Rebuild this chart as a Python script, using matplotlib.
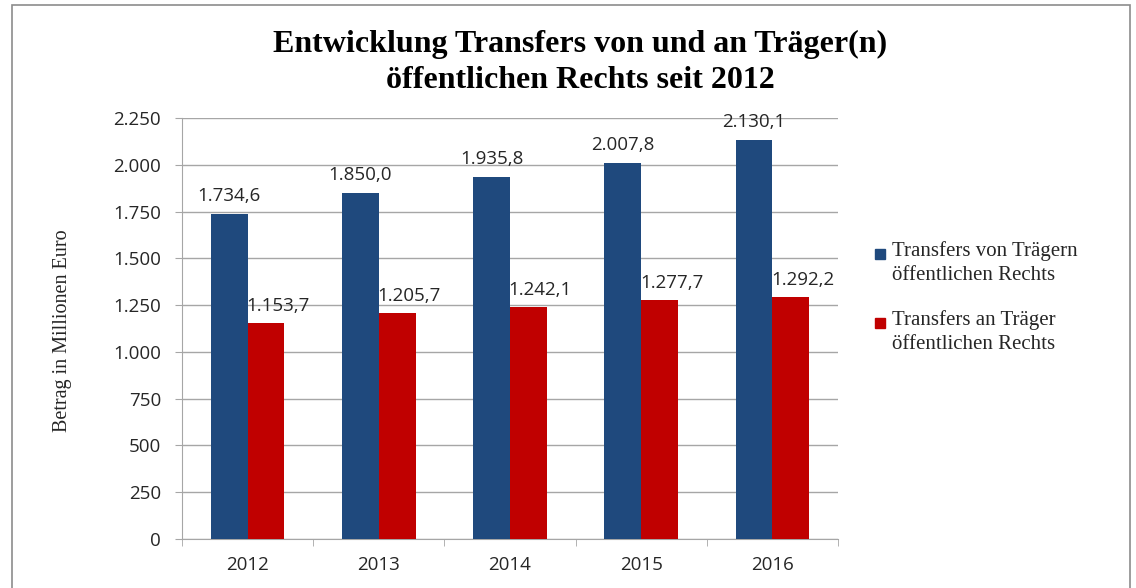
import matplotlib
matplotlib.use("Agg")
import matplotlib.pyplot as plt
import numpy as np
from matplotlib.patches import Rectangle
from matplotlib.ticker import FuncFormatter, FixedLocator

years = ["2012", "2013", "2014", "2015", "2016"]
von_values = [1734.6, 1850.0, 1935.8, 2007.8, 2130.1]
an_values = [1153.7, 1205.7, 1242.1, 1277.7, 1292.2]
series_names = ["Transfers von Trägern\nöffentlichen Rechts",
                "Transfers an Träger\nöffentlichen Rechts"]
title = "Entwicklung Transfers von und an Träger(n)\nöffentlichen Rechts seit 2012"
ylabel = "Betrag in Millionen Euro"

BLUE = "#1F497D"
RED = "#C00000"
GRID = "#A6A6A6"
TXT = "#262626"

def de_fmt(v, dec=0):
    s = f"{v:,.{dec}f}"
    return s.replace(",", "X").replace(".", ",").replace("X", ".")

W, H = 1136, 588
fig = plt.figure(figsize=(W/100, H/100), dpi=100)
fig.patch.set_facecolor("white")

# outer chart border
fig.add_artist(Rectangle((12/W, -0.05), (1130-12)/W, 1-5/H+0.05,
                         transform=fig.transFigure, fill=False,
                         edgecolor="#8C8C8C", linewidth=1.2))

ax = fig.add_axes([182/W, 1-539/H, (838-182)/W, (539-118)/H])
x = np.arange(len(years))
w = 0.28
b1 = ax.bar(x - w/2, von_values, w, color=BLUE, zorder=3)
b2 = ax.bar(x + w/2, an_values, w, color=RED, zorder=3)

ax.set_xlim(-0.5, len(years) - 0.5)
ax.set_ylim(0, 2250)
ax.set_yticks(np.arange(0, 2251, 250))
ax.yaxis.set_major_formatter(FuncFormatter(lambda v, p: de_fmt(v)))
ax.grid(axis="y", color=GRID, linewidth=1, zorder=0)
ax.set_xticks(x)
ax.set_xticklabels(years)
ax.xaxis.set_minor_locator(FixedLocator(np.arange(-0.5, len(years), 1.0)))
ax.tick_params(axis="x", which="major", length=0, pad=12, labelsize=13.5)
ax.tick_params(axis="x", which="minor", length=5, color=GRID)
ax.tick_params(axis="y", length=5, color=GRID, labelsize=13.5, pad=10)
for lbl in ax.get_xticklabels() + ax.get_yticklabels():
    lbl.set_family("Open Sans")
    lbl.set_color(TXT)
for s in ["top", "right"]:
    ax.spines[s].set_visible(False)
for s in ["left", "bottom"]:
    ax.spines[s].set_color(GRID)

for xi, v in zip(x, von_values):
    ax.annotate(de_fmt(v, 1), (xi - w/2, v), xytext=(0, 9), textcoords="offset pixels",
                ha="center", va="bottom", fontsize=13.5, family="Open Sans", color=TXT)
for xi, v in zip(x, an_values):
    ax.annotate(de_fmt(v, 1), (xi + w/2, v), xytext=(12, 8), textcoords="offset pixels",
                ha="center", va="bottom", fontsize=13.5, family="Open Sans", color=TXT)

ax.set_ylabel(ylabel, family="Liberation Serif", fontsize=14.5, color=TXT)
ax.yaxis.set_label_coords((72-182)/656, (539-331)/421)

fig.text(580/W, 1-62/H, title, ha="center", va="center", linespacing=1.32,
         family="Liberation Serif", fontweight="bold", fontsize=23)

# legend (square aligned with first line of each label)
leg_y = [254, 323]
for yy, name, col in zip(leg_y, series_names, [BLUE, RED]):
    fig.add_artist(Rectangle((875/W, 1-(yy+5)/H), 10/W, 10/H,
                             transform=fig.transFigure, color=col))
    fig.text(892/W, 1-(yy-13)/H, name, ha="left", va="top", linespacing=1.38,
             family="Liberation Serif", fontsize=15, color=TXT)

fig.savefig("out.png", dpi=100)
